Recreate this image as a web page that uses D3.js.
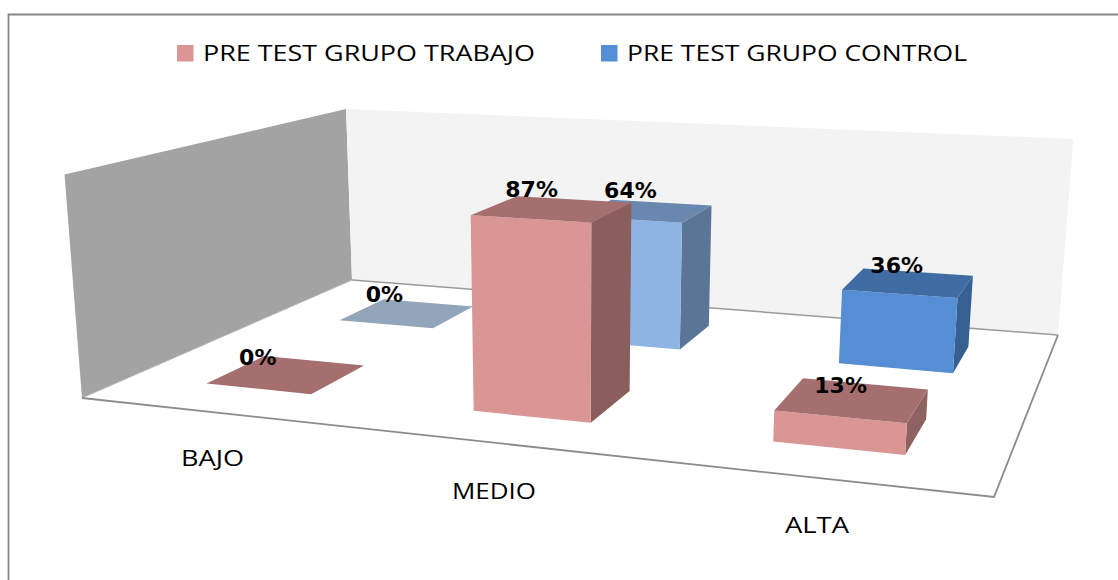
<!DOCTYPE html>
<html>
<head>
<meta charset="utf-8">
<script src="https://cdn.jsdelivr.net/npm/d3@7"></script>
<style>
html,body{margin:0;padding:0;background:#fff;}
svg{display:block;}
</style>
</head>
<body>
<svg id="chart" width="1118" height="580"></svg>
<script>
// ---- data ----
const categories = ["BAJO", "MEDIO", "ALTA"];
const seriesNames = ["PRE TEST GRUPO TRABAJO", "PRE TEST GRUPO CONTROL"];
const grupoTrabajo = [0, 0.87, 0.13];
const grupoControl = [0, 0.64, 0.36];
const valueLabels = [["0%", "87%", "13%"], ["0%", "64%", "36%"]];

// ---- styles ----
const faceColors = [
  [{front:"#DA9694",top:"#A56F6F",side:"#8B5E5E"},{front:"#DA9694",top:"#A56F6F",side:"#8B5E5E"},{front:"#DA9694",top:"#A56F6F",side:"#8F6262"}],
  [{front:"#93A5BA",top:"#93A5BA",side:"#93A5BA"},{front:"#8EB4E3",top:"#6A88AF",side:"#5A7596"},{front:"#558ED5",top:"#3F6CA3",side:"#376092"}]
];
const legendColors = ["#DA9694", "#558ED5"];

const svg = d3.select("#chart");
const W = 1118, H = 580;

// floor corners of the 3D box, in screen space
const FL=[82,398], FR=[994,497], BR=[1058,335], BL=[352,280];
const dx1=FR[0]-BR[0], dx2=BL[0]-BR[0], sx=FL[0]-FR[0]+BR[0]-BL[0];
const dy1=FR[1]-BR[1], dy2=BL[1]-BR[1], sy=FL[1]-FR[1]+BR[1]-BL[1];
const det=dx1*dy2-dx2*dy1;
const g=(sx*dy2-dx2*sy)/det, h=(dx1*sy-sx*dy1)/det;
const a=FR[0]-FL[0]+g*FR[0], b=BL[0]-FL[0]+h*BL[0], c=FL[0];
const d=FR[1]-FL[1]+g*FR[1], e=BL[1]-FL[1]+h*BL[1], f=FL[1];

// scales
const uScale = d3.scaleBand().domain(categories).range([0,1]).paddingInner(0.595).paddingOuter(0.2975);
const vScale = d3.scaleBand().domain(seriesNames).range([0,1]).paddingInner(0.6).paddingOuter(0.3);
const zScale = d3.scaleLinear().domain([0,1]).range([0,219]);
const lean = 0.00016, leanCentre = 570;

function project(u,v,z){
  const w=g*u+h*v+1;
  const x=(a*u+b*v+c)/w, y=(d*u+e*v+f)/w;
  const ph=zScale(z)/w;
  return [x+lean*(x-leanCentre)*ph, y-ph];
}
const pts = arr => arr.map(p=>p.join(",")).join(" ");

// outer frame
svg.append("path").attr("d",`M8.5,${H} V14.5 H${W}`).attr("fill","none").attr("stroke","#868686").attr("stroke-width",1.8);

// walls
const wallTop = 1.02;
svg.append("polygon").attr("points",pts([project(0,0,0),project(0,1,0),project(0,1,wallTop),project(0,0,wallTop)])).attr("fill","#A3A3A3");
svg.append("polygon").attr("points",pts([project(0,1,0),project(1,1,0),project(1,1,wallTop),project(0,1,wallTop)])).attr("fill","#F3F3F3");
// floor
svg.append("polygon").attr("points",pts([FL,FR,BR,BL])).attr("fill","#fff");
svg.append("path").attr("d",`M${BL} L${BR}`).attr("stroke","#9a9a9a").attr("stroke-width",1.5).attr("fill","none");
svg.append("path").attr("d",`M${BL} L${FL}`).attr("stroke","#b5b5b5").attr("stroke-width",1).attr("fill","none");
svg.append("path").attr("d",`M${FL} L${FR} L${BR}`).attr("stroke","#8c8c8c").attr("stroke-width",1.8).attr("fill","none");

// bars: back series first so the front series overlaps it
const allValues=[grupoTrabajo,grupoControl];
const barsG=svg.append("g");
[1,0].forEach(si=>{
  const v0=vScale(seriesNames[si]), v1=v0+vScale.bandwidth();
  categories.forEach((cat,ci)=>{
    const u0=uScale(cat), u1=u0+uScale.bandwidth(), val=allValues[si][ci], col=faceColors[si][ci];
    const G=barsG.append("g");
    if(val>0){
      G.append("polygon").attr("points",pts([project(u1,v0,0),project(u1,v1,0),project(u1,v1,val),project(u1,v0,val)])).attr("fill",col.side);
      G.append("polygon").attr("points",pts([project(u0,v0,0),project(u1,v0,0),project(u1,v0,val),project(u0,v0,val)])).attr("fill",col.front);
    }
    G.append("polygon").attr("points",pts([project(u0,v0,val),project(u1,v0,val),project(u1,v1,val),project(u0,v1,val)])).attr("fill",col.top);
  });
});

// value labels: placed from each bar's top centre, shifted up and to the left
const labelShift = [[[-29,-9],[-21,-12],[-12,-7]],[[-23,-11],[-15,-13],[-12,-10]]];
[0,1].forEach(si=>{
  categories.forEach((cat,ci)=>{
    const u=uScale(cat)+uScale.bandwidth()/2, v=vScale(seriesNames[si])+vScale.bandwidth()/2;
    const p=project(u,v,allValues[si][ci]), s=labelShift[si][ci];
    svg.append("text").attr("x",p[0]+s[0]).attr("y",p[1]+s[1])
      .attr("text-anchor","middle")
      .attr("font-family","'DejaVu Sans',sans-serif").attr("font-weight","bold").attr("font-size",22)
      .attr("fill","#000").text(valueLabels[si][ci]);
  });
});

// category labels
const catLabelX=[181,452,785], catLabelY=[466,499,533], catLabelW=[63,84,64];
categories.forEach((cat,i)=>{
  svg.append("text").attr("x",catLabelX[i]).attr("y",catLabelY[i])
    .attr("font-family","'Open Sans',sans-serif").attr("font-size",22).attr("fill","#000")
    .attr("textLength",catLabelW[i]).attr("lengthAdjust","spacingAndGlyphs").text(cat);
});

// legend
const legX=[177,601], legTextX=[203,627], legTextW=[332,340];
seriesNames.forEach((n,i)=>{
  svg.append("rect").attr("x",legX[i]).attr("y",45).attr("width",16.5).attr("height",16.5).attr("fill",legendColors[i]);
  svg.append("text").attr("x",legTextX[i]).attr("y",61)
    .attr("font-family","'Open Sans',sans-serif").attr("font-size",22).attr("fill","#000")
    .attr("textLength",legTextW[i]).attr("lengthAdjust","spacingAndGlyphs").text(n);
});
</script>
</body>
</html>
